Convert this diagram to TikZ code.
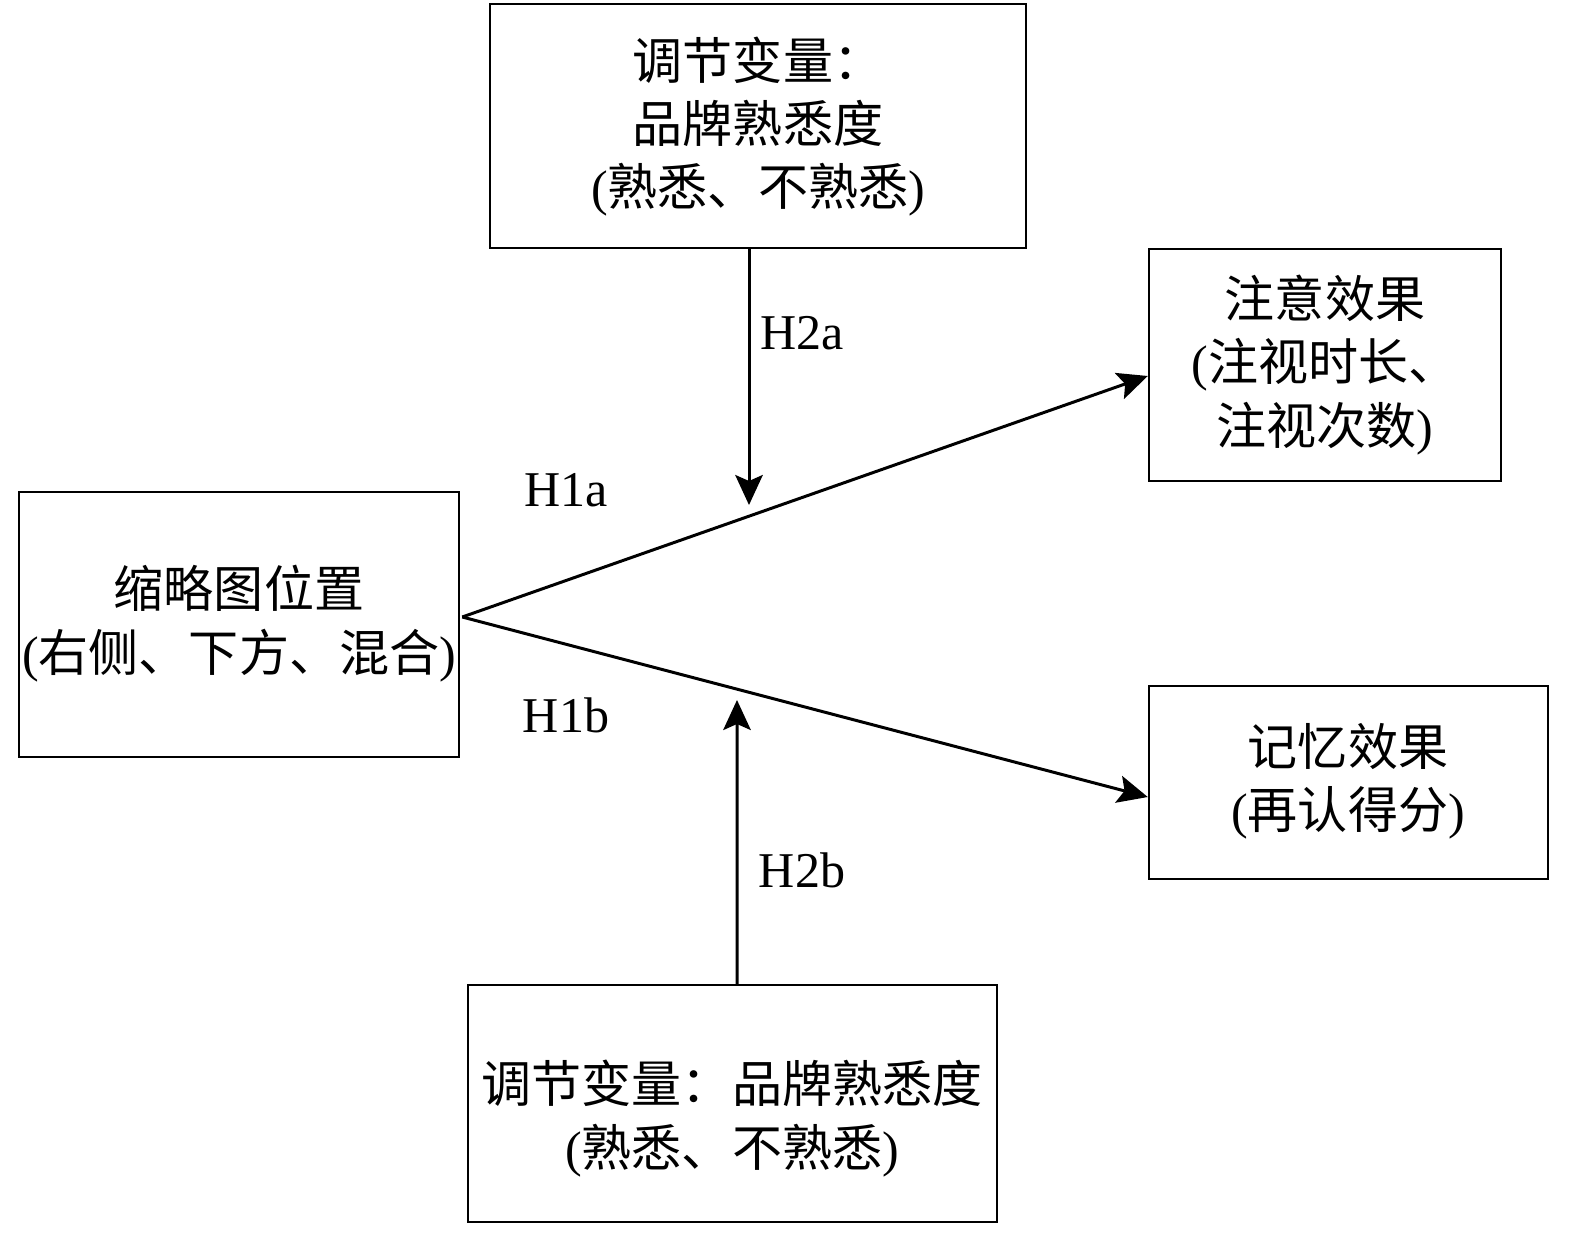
\documentclass[tikz,border=0pt]{standalone}
\usepackage{fontspec}
\setmainfont{Liberation Serif}
\newfontfamily\cjk{Noto Sans CJK SC}
\usetikzlibrary{arrows.meta,calc}
\begin{document}
\begin{tikzpicture}[x=0.02cm,y=-0.02cm,
  box/.style={draw,line width=1.4pt,rectangle,inner sep=0pt},
  txt/.style={align=center,font=\fontsize{28.5}{36}\selectfont,inner sep=0pt},
  lbl/.style={font=\fontsize{28.5}{34}\selectfont,inner sep=0pt},
  arr/.style={line width=1.7pt,-{Stealth[length=0.6cm,width=0.55cm,inset=0.12cm]}}]
\useasboundingbox (0,0) rectangle (1575,1233);
% boxes
\node[box,minimum width=536*0.02cm,minimum height=244*0.02cm] (T) at (758,126) {};
\node[box,minimum width=352*0.02cm,minimum height=232*0.02cm] (RT) at (1325,365) {};
\node[box,minimum width=399*0.02cm,minimum height=193*0.02cm] (RB) at (1348.5,782.5) {};
\node[box,minimum width=440*0.02cm,minimum height=265*0.02cm] (L) at (239,624.5) {};
\node[box,minimum width=529*0.02cm,minimum height=237*0.02cm] (B) at (732.5,1103.5) {};
% texts
\node[txt] (Tt) at (758,126.5) {{\cjk 调节变量：}\\{\cjk 品牌熟悉度}\\({\cjk 熟悉、不熟悉})};
\node[txt] (RTt) at (1325,365) {{\cjk 注意效果}\\({\cjk 注视时长、}\\{\cjk 注视次数})};
\node[txt] (RBt) at (1348,781) {{\cjk 记忆效果}\\({\cjk 再认得分})};
\node[txt] (Lt) at (239,623.5) {{\cjk 缩略图位置}\\({\cjk 右侧、下方、混合})};
\node[txt] (Bt) at (732,1118.5) {{\cjk 调节变量：品牌熟悉度}\\({\cjk 熟悉、不熟悉})};
% connectors
\coordinate (src) at ($(L.east)+(2,-7.5)$);
\coordinate (tipA) at ($(RT.west)+(0,11)$);
\coordinate (tipB) at ($(RB.west)+(0,14.5)$);
\coordinate (topstart) at ($(T.south)+(-9,0)$);
\coordinate (toptip) at (749,505);
\coordinate (botstart) at ($(B.north)+(4.5,0)$);
\coordinate (bottip) at (737,700);
\draw[arr] (src) -- (tipA);
\draw[arr] (src) -- (tipB);
\draw[arr] (topstart) -- (toptip);
\draw[arr] (botstart) -- (bottip);
% labels
\node[lbl] (h2a) at (802,333) {H2a};
\node[lbl] (h1a) at (566,490) {H1a};
\node[lbl] (h1b) at (566,715) {H1b};
\node[lbl] (h2b) at (802,870) {H2b};
\end{tikzpicture}
\end{document}
